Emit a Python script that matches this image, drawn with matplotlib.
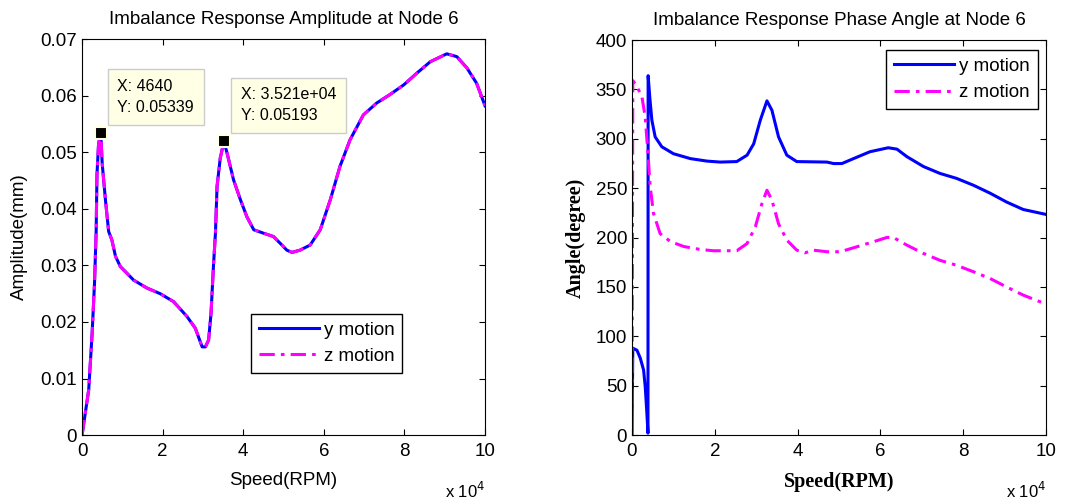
import numpy as np
import matplotlib.pyplot as plt

# amplitude curve (speed in 1e4 RPM, amplitude in mm)
amp_x = [0, 0.165, 0.25, 0.31, 0.35, 0.37, 0.41, 0.464, 0.5, 0.58, 0.66, 0.74, 0.83, 0.95,
         1.28, 1.61, 1.94, 2.27, 2.6, 2.81, 2.98, 3.06, 3.14, 3.2, 3.26, 3.31, 3.35, 3.43,
         3.521, 3.6, 3.76, 3.93, 4.09, 4.26, 4.5, 4.75, 4.96, 5.08, 5.21, 5.41, 5.66, 5.91,
         6.16, 6.4, 6.65, 6.98, 7.31, 7.64, 7.98, 8.31, 8.64, 9.05, 9.3, 9.55, 9.79, 10.0]
amp_y = [0, 0.008, 0.018, 0.027, 0.036, 0.046, 0.0515, 0.05339, 0.048, 0.0416, 0.036, 0.0345,
         0.0316, 0.0298, 0.0274, 0.026, 0.025, 0.0236, 0.021, 0.0189, 0.0156, 0.0156, 0.0168,
         0.0215, 0.0298, 0.0357, 0.044, 0.049, 0.05193, 0.0498, 0.0451, 0.0416, 0.0386, 0.0363,
         0.0357, 0.0351, 0.0336, 0.0327, 0.0323, 0.0327, 0.0336, 0.0363, 0.0416, 0.0475,
         0.0522, 0.0566, 0.0587, 0.0602, 0.0619, 0.064, 0.066, 0.0674, 0.0669, 0.0649,
         0.0622, 0.0582]

# phase angle, y motion
py_x = [0, 0.02, 0.12, 0.2, 0.28, 0.32, 0.36, 0.386, 0.39, 0.43, 0.48, 0.56, 0.72, 1.0, 1.41,
        1.81, 2.13, 2.53, 2.78, 2.94, 3.1, 3.26, 3.38, 3.54, 3.74, 3.98, 4.71, 4.87, 5.07,
        5.35, 5.75, 6.19, 6.4, 6.64, 7.04, 7.44, 7.84, 8.25, 8.65, 9.05, 9.45, 10.0]
py_y = [0, 88, 86, 78, 66, 49, 22, 2, 364, 342, 319, 302, 292, 285, 280, 277.5, 276.5, 277,
        283.5, 295, 319, 338.5, 329, 302, 283.5, 277, 276.5, 275, 275, 280, 287, 291, 289.6,
        282, 272, 265, 260, 253, 245, 236, 228.5, 223.5]

# phase angle, z motion
pz_x = [0, 0.02, 0.12, 0.24, 0.32, 0.38, 0.44, 0.52, 0.68, 0.93, 1.25, 1.65, 1.97, 2.53,
        2.78, 2.98, 3.14, 3.26, 3.38, 3.54, 3.74, 3.98, 4.18, 4.38, 4.71, 5.03, 5.43, 5.83,
        6.16, 6.32, 6.64, 7.04, 7.44, 7.84, 8.25, 8.65, 9.05, 9.45, 10.0]
pz_y = [0, 359, 353, 342.6, 322, 288.6, 251.5, 224.5, 204, 196, 191, 188, 186.7, 186.7,
        194, 211, 234.6, 248, 238, 214, 197.5, 187.3, 184.6, 187.3, 185.7, 185.7, 190.7,
        195.8, 200.2, 200, 192.4, 184, 177, 172, 165.4, 158.6, 150, 141.8, 132.7]

tips_x = [4640, 35210]
tips_y = [0.05339, 0.05193]
tip_text = ["X: 4640\nY: 0.05339", "X: 3.521e+04\nY: 0.05193"]

plt.rcParams['font.family'] = 'Liberation Sans'
blue = '#0000FF'
mag = '#FF00FF'
dd = (0, (5, 2, 1.2, 2))
fs = 13.5

fig = plt.figure(figsize=(10.67, 4.99), dpi=100)
ax1 = fig.add_axes([0.0769, 0.128, 0.3777, 0.7936])
ax2 = fig.add_axes([0.5923, 0.128, 0.388, 0.7916])

sx = lambda a: np.array(a) * 1e4

ax1.plot(sx(amp_x), amp_y, color=blue, lw=2.2, label='y motion')
ax1.plot(sx(amp_x), amp_y, color=mag, lw=2.2, ls=dd, label='z motion')
ax1.set_xlim(0, 1e5)
ax1.set_ylim(0, 0.07)
ax1.set_yticks(np.arange(0, 0.071, 0.01))
ax1.set_yticklabels(['0', '0.01', '0.02', '0.03', '0.04', '0.05', '0.06', '0.07'])
ax1.set_title('Imbalance Response Amplitude at Node 6', fontsize=fs, pad=11)
ax1.set_xlabel('Speed(RPM)', fontsize=fs, labelpad=8)
ax1.set_ylabel('Amplitude(mm)', fontsize=fs, labelpad=9)
ax1.plot(tips_x, tips_y, 's', color='black', ms=8, mec='#FFFFE1', mew=1.5, zorder=5)
for xx, yy, t in zip(tips_x, tips_y, tip_text):
    ax1.annotate(t, (xx, yy), xytext=(12, 13), textcoords='offset points', fontsize=11.5,
                 va='bottom', ha='left', linespacing=1.5,
                 bbox=dict(boxstyle='square,pad=0.6', fc='#FFFFE6', ec='#CCCCCC', lw=1))
ax1.legend(loc='lower right', bbox_to_anchor=(0.795, 0.158), fontsize=fs, fancybox=False,
           edgecolor='black', framealpha=1, handlelength=3.2, borderpad=0.4,
           labelspacing=0.5, handletextpad=0.3, borderaxespad=0)

ax2.plot(sx(py_x), py_y, color=blue, lw=2.2, label='y motion')
ax2.plot(sx(pz_x), pz_y, color=mag, lw=2.2, ls=dd, label='z motion')
ax2.set_xlim(0, 1e5)
ax2.set_ylim(0, 400)
ax2.set_yticks(np.arange(0, 401, 50))
ax2.set_title('Imbalance Response Phase Angle at Node 6', fontsize=fs, pad=11)
ax2.set_xlabel('Speed(RPM)', fontsize=14.5, family='Liberation Serif', fontweight='bold',
               labelpad=8)
ax2.set_ylabel('Angle(degree)', fontsize=14.5, family='Liberation Serif', fontweight='bold',
               labelpad=7)
ax2.legend(loc='upper right', bbox_to_anchor=(0.98, 0.975), fontsize=fs, fancybox=False,
           edgecolor='black', framealpha=1, handlelength=3.2, borderpad=0.4,
           labelspacing=0.5, handletextpad=0.3, borderaxespad=0)

for ax in (ax1, ax2):
    ax.set_xticks(np.arange(0, 1.01e5, 2e4))
    ax.set_xticklabels(['0', '2', '4', '6', '8', '10'])
    ax.tick_params(direction='in', top=True, right=True, labelsize=fs, length=4)
    ax.tick_params(axis='x', pad=6)
    ax.text(1.0, -0.115, r'x 10$^4$', transform=ax.transAxes, ha='right', va='top',
            fontsize=12)

fig.savefig('out.png', dpi=100)
